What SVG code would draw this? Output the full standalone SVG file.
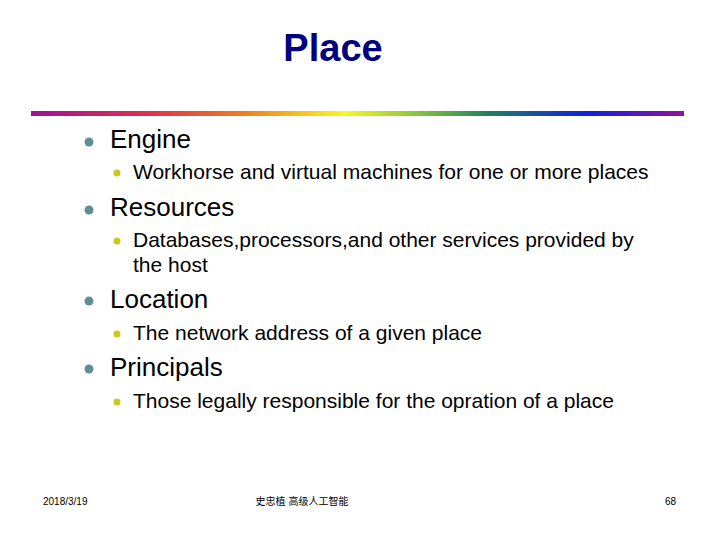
<svg xmlns="http://www.w3.org/2000/svg" width="720" height="540" viewBox="0 0 720 540">
<defs>
<linearGradient id="rb" x1="0" x2="1" y1="0" y2="0">
<stop offset="0" stop-color="#a0109a"/>
<stop offset="0.18" stop-color="#e0304a"/>
<stop offset="0.33" stop-color="#f08020"/>
<stop offset="0.48" stop-color="#f8f820"/>
<stop offset="0.6" stop-color="#80c040"/>
<stop offset="0.7" stop-color="#208060"/>
<stop offset="0.85" stop-color="#1020e0"/>
<stop offset="1" stop-color="#9010a0"/>
</linearGradient>
<style>
.t{font-family:"Liberation Sans",Arial,sans-serif;fill:#000}
.l1{font-size:26px}
.l2{font-size:21px}
.f{font-family:"Liberation Sans","Noto Sans CJK SC",sans-serif;font-size:10px;fill:#000}
.b1{fill:#5f8f95}
.b2{fill:#c8c820}
</style>
</defs>
<rect width="720" height="540" fill="#fff"/>
<text x="333" y="61" text-anchor="middle" style="font-family:'Liberation Sans',Arial,sans-serif;font-size:38px;font-weight:bold;fill:#000080">Place</text>
<rect x="31" y="111" width="653" height="5" fill="url(#rb)"/>
<g id="engine"><circle class="b1" cx="89" cy="142" r="4.5"/><text class="t l1" x="110" y="148">Engine</text>
<circle class="b2" cx="117" cy="173" r="3.5"/><text class="t l2" x="133" y="179">Workhorse and virtual machines for one or more places</text></g>
<g id="resources"><circle class="b1" cx="89" cy="210" r="4.5"/><text class="t l1" x="110" y="216">Resources</text>
<circle class="b2" cx="117" cy="241" r="3.5"/><text class="t l2" x="133" y="247">Databases,processors,and other services provided by</text><text class="t l2" x="133" y="272">the host</text></g>
<g id="location"><circle class="b1" cx="89" cy="301" r="4.5"/><text class="t l1" x="110" y="308">Location</text>
<circle class="b2" cx="117" cy="334" r="3.5"/><text class="t l2" x="133" y="340">The network address of a given place</text></g>
<g id="principals"><circle class="b1" cx="89" cy="369" r="4.5"/><text class="t l1" x="110" y="376">Principals</text>
<circle class="b2" cx="117" cy="402" r="3.5"/><text class="t l2" x="133" y="408">Those legally responsible for the opration of a place</text></g>
<g id="connectors"/>
<text class="f" x="43" y="505">2018/3/19</text>
<text class="f" x="302" y="505" text-anchor="middle">史忠植 高级人工智能</text>
<text class="f" x="676" y="505" text-anchor="end">68</text>
</svg>
